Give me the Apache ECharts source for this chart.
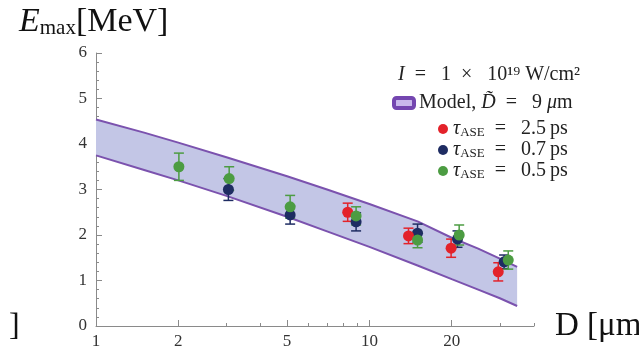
<!DOCTYPE html>
<html>
<head>
<meta charset="utf-8">
<script src="https://cdn.jsdelivr.net/npm/echarts@6/dist/echarts.min.js"></script>
<style>
  html, body { margin: 0; padding: 0; background: #fff; }
  #main { width: 639px; height: 352px; }
</style>
</head>
<body>
<div id="main"></div>
<script>
// model band (upper / lower edge)
const bandD = [1, 1.5, 2, 3, 5, 7, 10, 15, 20, 25, 30, 34.7];
const bandUpper = [4.54, 4.25, 4.03, 3.71, 3.29, 3.00, 2.68, 2.30, 1.94, 1.70, 1.48, 1.30];
const bandLower = [3.75, 3.43, 3.20, 2.86, 2.40, 2.08, 1.74, 1.33, 1.03, 0.80, 0.61, 0.44];

// measurements: D, Emax, error
const redD = [8.33, 13.9, 19.9, 29.6];
const redE = [2.50, 1.98, 1.71, 1.19];
const redErr = [0.2, 0.17, 0.2, 0.2];

const navyD = [3.05, 5.13, 8.94, 15.0, 21.0, 31.1];
const navyE = [3.00, 2.44, 2.29, 2.04, 1.91, 1.41];
const navyErr = [0.24, 0.2, 0.2, 0.2, 0.18, 0.15];

const greenD = [2.01, 3.07, 5.13, 8.94, 15.0, 21.3, 32.2];
const greenE = [3.50, 3.24, 2.62, 2.42, 1.89, 2.00, 1.45];
const greenErr = [0.3, 0.26, 0.25, 0.2, 0.17, 0.22, 0.2];

const xLabelTicks = [1, 2, 5, 10, 20];
const xMinorTicks = [3, 4, 6, 7, 8, 9, 30, 40];

const serif = 'Liberation Serif';
const purple = '#7b52ae';
const bandFill = '#c3c6e6';
const red = '#e3222a';
const navy = '#1e2c62';
const green = '#4c9c42';

const pts = (xs, ys) => xs.map((x, i) => [x, ys[i]]);
const errPts = (xs, ys, es) => xs.map((x, i) => [x, ys[i], es[i]]);
const EQ = '\u2002=\u2002 ';

//误差棒
const errorBars = (name, color, data) => ({
  name: name,
  type: 'custom',
  z: 3,
  data: data,
  renderItem: function (params, api) {
    const x = api.value(0), y = api.value(1), e = api.value(2);
    const top = api.coord([x, y + e]);
    const bot = api.coord([x, y - e]);
    const w = 5;
    const style = { stroke: color, lineWidth: 1.5 };
    return {
      type: 'group',
      children: [
        { type: 'line', shape: { x1: top[0], y1: top[1], x2: bot[0], y2: bot[1] }, style: style },
        { type: 'line', shape: { x1: top[0] - w, y1: top[1], x2: top[0] + w, y2: top[1] }, style: style },
        { type: 'line', shape: { x1: bot[0] - w, y1: bot[1], x2: bot[0] + w, y2: bot[1] }, style: style }
      ]
    };
  }
});

const dots = (name, color, data) => ({
  name: name,
  type: 'scatter',
  z: 4,
  symbolSize: 11,
  itemStyle: { color: color, opacity: 1 },
  data: data
});

const legendRich = {
  i: { fontFamily: serif, fontStyle: 'italic', fontSize: 20, color: '#222', lineHeight: 20 },
  s: { fontFamily: serif, fontSize: 13, color: '#222', lineHeight: 13, padding: [7, 0, 0, 0] },
  t: { fontFamily: serif, fontSize: 20, color: '#222', lineHeight: 20 }
};

const option = {
  animation: false,
  title: [
    {
      left: 14,
      top: 0,
      text: '{e|E}{s|max}{b|[MeV]}',
      textStyle: {
        fontWeight: 'normal',
        rich: {
          e: { fontFamily: serif, fontStyle: 'italic', fontSize: 34, color: '#111' },
          s: { fontFamily: serif, fontSize: 21, color: '#111', padding: [13, 0, 0, 0] },
          b: { fontFamily: serif, fontSize: 34, color: '#111' }
        }
      }
    },
    {
      left: 393,
      top: 60,
      text: '{i|I}{t|' + EQ + '1\u2002\u00d7\u2002 10\u00b9\u2079 W/cm\u00b2}',
      textStyle: { fontWeight: 'normal', rich: legendRich }
    }
  ],
  grid: { left: 96, right: 105, top: 53, bottom: 26, outerBoundsMode: 'none' },
  legend: [
    {
      left: 387,
      top: 88,
      itemWidth: 20,
      itemHeight: 10,
      itemGap: 6,
      data: [{ name: 'Model', icon: 'roundRect', itemStyle: { color: '#c9b8ec', borderColor: '#7446b0', borderWidth: 4 } }],
      formatter: function () { return '{t|Model, }{i|D\u0303}{t|' + EQ + '9 }{i|\u03bc}{t|m}'; },
      textStyle: { rich: legendRich }
    },
    {
      left: 433,
      top: 114,
      orient: 'vertical',
      icon: 'circle',
      itemWidth: 10,
      itemHeight: 10,
      itemGap: 1,
      data: [
        { name: 'r', itemStyle: { color: red } },
        { name: 'n', itemStyle: { color: navy } },
        { name: 'g', itemStyle: { color: green } }
      ],
      formatter: function (name) {
        const v = { r: '2.5', n: '0.7', g: '0.5' }[name];
        return '{i|\u03c4}{s|ASE}{t|' + EQ + v + '\u2009ps}';
      },
      textStyle: { rich: legendRich }
    }
  ],
  graphic: [
    {
      type: 'text',
      left: 9,
      top: 311,
      style: { text: ']', fontFamily: serif, fontSize: 32, fill: '#111' }
    }
  ],
  xAxis: [
    {
      type: 'log',
      logBase: 10,
      min: 1,
      max: 40,
      name: 'D [\u03bcm]',
      nameLocation: 'end',
      nameGap: 21,
      nameTextStyle: { fontFamily: serif, fontSize: 33, color: '#111', verticalAlign: 'middle', padding: [0, 0, 4, 0] },
      axisLine: { lineStyle: { color: '#8a8a8a', width: 1 } },
      axisTick: { inside: true, length: 6, lineStyle: { color: '#8a8a8a' }, customValues: xLabelTicks },
      axisLabel: { fontFamily: serif, fontSize: 17, color: '#333', margin: 7, customValues: xLabelTicks },
      splitLine: { show: false },
      minorTick: { show: false }
    },
    {
      type: 'log',
      logBase: 10,
      min: 1,
      max: 40,
      position: 'bottom',
      axisLine: { show: false },
      axisTick: { inside: true, length: 3, lineStyle: { color: '#8a8a8a' }, customValues: xMinorTicks },
      axisLabel: { show: false },
      splitLine: { show: false }
    }
  ],
  yAxis: {
    type: 'value',
    min: 0,
    max: 6,
    interval: 1,
    axisLine: { show: true, lineStyle: { color: '#8a8a8a', width: 1 } },
    axisTick: { show: true, inside: true, length: 6, lineStyle: { color: '#8a8a8a' } },
    minorTick: { show: true, splitNumber: 5, length: 3, lineStyle: { color: '#8a8a8a' } },
    axisLabel: { fontFamily: serif, fontSize: 17, color: '#333', margin: 9 },
    splitLine: { show: false }
  },
  series: [
    {
      // band fill: polygon from the upper edge and back along the lower edge
      name: 'bandFill',
      type: 'custom',
      z: 1,
      silent: true,
      data: [[bandD[0], bandLower[0]]],
      renderItem: function (params, api) {
        const poly = [];
        bandD.forEach((d, i) => poly.push(api.coord([d, bandUpper[i]])));
        for (let i = bandD.length - 1; i >= 0; i--) poly.push(api.coord([bandD[i], bandLower[i]]));
        return { type: 'polygon', shape: { points: poly }, style: { fill: bandFill } };
      }
    },
    {
      name: 'bandLow',
      type: 'line',
      symbol: 'none',
      z: 2,
      lineStyle: { color: purple, width: 2 },
      data: pts(bandD, bandLower)
    },
    {
      name: 'Model',
      type: 'line',
      symbol: 'none',
      z: 2,
      lineStyle: { color: purple, width: 2 },
      data: pts(bandD, bandUpper)
    },
    errorBars('n', navy, errPts(navyD, navyE, navyErr)),
    dots('n', navy, pts(navyD, navyE)),
    errorBars('r', red, errPts(redD, redE, redErr)),
    dots('r', red, pts(redD, redE)),
    errorBars('g', green, errPts(greenD, greenE, greenErr)),
    dots('g', green, pts(greenD, greenE))
  ]
};

const chart = echarts.init(document.getElementById('main'));
chart.setOption(option);
window.addEventListener('resize', () => { chart.resize(); });
</script>
</body>
</html>
